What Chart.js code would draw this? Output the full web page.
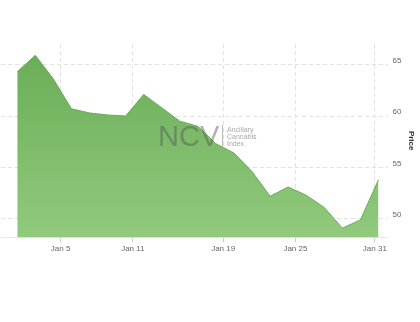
<!DOCTYPE html>
<html>
<head>
<meta charset="utf-8">
<script src="https://cdn.jsdelivr.net/npm/chart.js@4.4.1/dist/chart.umd.min.js"></script>
<style>
    html, body { margin: 0; padding: 0; background: #fff; }
    #box { width: 420px; height: 322px; }
</style>
</head>
<body>
<div id="box"><canvas id="grafico"></canvas></div>
<script>
// Dados do gráfico (dias de pregão de janeiro)
const dates = ['Jan 2', 'Jan 3', 'Jan 4', 'Jan 5', 'Jan 8', 'Jan 9', 'Jan 10', 'Jan 11', 'Jan 12', 'Jan 16', 'Jan 17',
    'Jan 18', 'Jan 19', 'Jan 22', 'Jan 23', 'Jan 24', 'Jan 25', 'Jan 26', 'Jan 29', 'Jan 30', 'Jan 31'];
const prices = [64.3, 65.9, 63.6, 60.7, 60.3, 60.1, 60.0, 62.1, 60.8, 59.5, 59.0,
    57.3, 56.4, 54.6, 52.2, 53.1, 52.3, 51.1, 49.1, 49.9, 53.8];
const xTickLabels = ['Jan 5', 'Jan 11', 'Jan 19', 'Jan 25', 'Jan 31'];
const yTicks = [50, 55, 60, 65];

// deslocamento dos ticks em relação ao ponto do dia
const tickShift = [0.6, 0.6, 0.6, 0.6, 0.2];

// Marca d'água "NCV"
const marcaDagua = {
    id: 'marcaDagua',
    afterDraw(chart) {
        const ctx = chart.ctx;
        ctx.save();
        ctx.fillStyle = 'rgba(85, 85, 85, 0.45)';
        ctx.font = '29px "Liberation Sans", Arial, sans-serif';
        ctx.textBaseline = 'alphabetic';
        ctx.textAlign = 'left';
        ctx.fillText('NCV', 158, 146);
        ctx.strokeStyle = 'rgba(170, 170, 170, 0.8)';
        ctx.lineWidth = 1;
        ctx.beginPath();
        ctx.moveTo(222.5, 125);
        ctx.lineTo(222.5, 148);
        ctx.stroke();
        ctx.fillStyle = 'rgba(160, 160, 160, 0.9)';
        ctx.font = '7px "Liberation Sans", Arial, sans-serif';
        ctx.textBaseline = 'middle';
        ctx.fillText('Ancillary', 227, 130);
        ctx.fillText('Cannabis', 227, 137);
        ctx.fillText('Index', 227, 144);
        ctx.restore();
    }
};

const ctx = document.getElementById('grafico').getContext('2d');

const grafico = new Chart(ctx, {
    type: 'line',
    data: {
        datasets: [{
            label: 'Price',
            data: prices.map((p, i) => ({ x: i, y: p })),
            borderColor: 'rgb(104, 172, 86)',
            borderWidth: 1,
            pointRadius: 0,
            tension: 0,
            fill: 'start',
            backgroundColor: (c) => {
                const area = c.chart.chartArea;
                if (!area) return 'rgb(120, 185, 100)';
                const g = c.chart.ctx.createLinearGradient(0, area.top, 0, area.bottom);
                g.addColorStop(0, 'rgb(104, 172, 86)');
                g.addColorStop(1, 'rgb(145, 202, 125)');
                return g;
            }
        }]
    },
    options: {
        responsive: true,
        maintainAspectRatio: false,
        animation: false,
        layout: { padding: { top: 44, bottom: 66, left: 1, right: 0 } },
        plugins: {
            legend: { display: false },
            tooltip: { enabled: false }
        },
        scales: {
            x: {
                type: 'linear',
                min: -0.9,
                max: 20.5,
                afterBuildTicks: (scale) => {
                    scale.ticks = xTickLabels.map((d, i) => ({ value: dates.indexOf(d) - tickShift[i] }));
                },
                ticks: {
                    autoSkip: false,
                    maxRotation: 0,
                    color: '#666',
                    font: { size: 8, family: '"Liberation Sans", Arial, sans-serif' },
                    padding: 2,
                    callback: (v, i) => xTickLabels[i]
                },
                grid: {
                    color: '#e2e2e2',
                    tickLength: 5,
                    tickColor: '#ccc'
                },
                border: { display: true, color: '#e6e6e6', dash: [4, 3] }
            },
            y: {
                position: 'right',
                min: 48.2,
                max: 67,
                afterBuildTicks: (scale) => {
                    scale.ticks = yTicks.map(v => ({ value: v }));
                },
                ticks: {
                    color: '#666',
                    font: { size: 8, family: '"Liberation Sans", Arial, sans-serif' },
                    padding: 5,
                    labelOffset: -4
                },
                grid: {
                    color: '#e2e2e2',
                    drawTicks: false
                },
                border: { display: false, dash: [4, 3] },
                title: {
                    display: true,
                    text: 'Price',
                    color: '#333',
                    font: { size: 8, weight: 'bold', family: '"Liberation Sans", Arial, sans-serif' },
                    padding: { top: 4, bottom: 0 }
                }
            }
        }
    },
    plugins: [marcaDagua]
});
</script>
</body>
</html>
